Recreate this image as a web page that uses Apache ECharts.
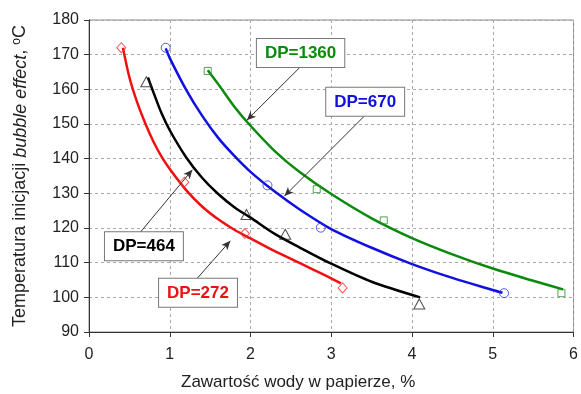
<!DOCTYPE html>
<html>
<head>
<meta charset="utf-8">
<script src="https://cdn.jsdelivr.net/npm/echarts@6/dist/echarts.min.js"></script>
<style>
  html, body { margin: 0; padding: 0; background: #fff; }
  #chart { width: 581px; height: 394px; }
</style>
</head>
<body>
<div id="chart"></div>
<script>
// Trend curves: water content in paper (%) -> bubble effect inception temperature (°C)
const curveDP272 = [[0.42,172],[0.5,163.5],[0.6,156],[0.7,150],[0.8,144.8],[0.9,140.5],[1.0,137],[1.2,131],[1.4,126.2],[1.6,122.5],[1.8,119.5],[2.0,117],[2.3,113.3],[2.6,110],[2.9,106.6],[3.12,104]];
const curveDP464 = [[0.73,163.4],[0.8,159],[0.9,153],[1.0,148.2],[1.2,140.5],[1.4,134.5],[1.6,129.8],[1.8,126],[2.0,123],[2.3,118.3],[2.6,114.5],[3.0,109.7],[3.5,104.5],[4.1,100]];
const curveDP670 = [[0.95,171.8],[1.0,169],[1.2,160],[1.4,152.4],[1.6,146],[1.8,140.8],[2.0,136.2],[2.3,130.5],[2.6,125.5],[3.0,119.7],[3.5,114.3],[4.0,109.6],[4.5,105.6],[5.0,102.1],[5.12,101.3]];
const curveDP1360 = [[1.47,165.5],[1.6,161.5],[1.8,155],[2.0,149.5],[2.3,142.2],[2.6,136.3],[3.0,129.8],[3.5,122.8],[4.0,117.1],[4.5,112.4],[5.0,108.3],[5.5,104.8],[5.87,102.3]];

// Measured points
const pointsDP272 = [[0.4,172],[1.18,133.2],[1.93,118.4],[3.14,102.7]];
const pointsDP464 = [[0.71,162.2],[1.95,123.9],[2.43,118.2],[4.09,98.1]];
const pointsDP670 = [[0.95,172],[2.21,132.3],[2.87,120.1],[5.14,101.2]];
const pointsDP1360 = [[1.47,165.3],[2.82,131.2],[3.65,122.2],[5.85,101.2]];

// Callout labels: text, label anchor [x, y], arrow start [x, y], arrow tip [x, y]
const calloutText = ['DP=1360', 'DP=670', 'DP=464', 'DP=272'];
const calloutAnchor = [[2.62,170.5],[3.42,156.4],[0.68,114.7],[1.35,101.3]];
const calloutFrom = [[2.61,166.3],[3.41,152.3],[0.615,118.2],[1.337,105.4]];
const calloutTo = [[1.955,151.1],[2.42,129.2],[1.28,136.8],[1.75,116.3]];

const colors = ['#0a8a0a', '#1010e0', '#000000', '#f01010'];
const markerColors = ['#2e8b2e', '#3030e0', '#222222', '#f03030'];

const chart = echarts.init(document.getElementById('chart'));
const font = '"Liberation Sans", Arial, sans-serif';

function curve(data, color) {
  return {
    type: 'line', data: data, smooth: 0.3, showSymbol: false, symbol: 'none',
    lineStyle: { color: color, width: 2.5 }, silent: true, z: 3
  };
}
function markers(data, color, symbol, size) {
  return {
    type: 'scatter', data: data, symbol: symbol, symbolSize: size,
    itemStyle: { color: 'rgba(255,255,255,0)', borderColor: color, borderWidth: 1 },
    silent: true, z: 4
  };
}

const series = [
  curve(curveDP1360, colors[0]),
  curve(curveDP670, colors[1]),
  curve(curveDP464, colors[2]),
  curve(curveDP272, colors[3]),
  markers(pointsDP1360, markerColors[0], 'rect', 7),
  markers(pointsDP670, markerColors[1], 'circle', 9),
  markers(pointsDP464, markerColors[2], 'triangle', [11, 10]),
  markers(pointsDP272, markerColors[3], 'diamond', [9, 10]),
  {
    type: 'line', data: [], silent: true, z: 5,
    markLine: {
      silent: true, symbol: ['none', 'arrow'], symbolSize: [6, 9],
      label: { show: false },
      lineStyle: { color: '#333', width: 1, type: 'solid' },
      data: calloutFrom.map((p, i) => [{ coord: p }, { coord: calloutTo[i] }])
    },
    markPoint: {
      silent: true,
      data: calloutText.map((t, i) => ({
        coord: calloutAnchor[i], symbol: 'rect', symbolSize: 1,
        itemStyle: { color: 'rgba(0,0,0,0)' },
        label: {
          show: true, position: 'inside', formatter: t,
          color: colors[i], fontFamily: font, fontWeight: 'bold', fontSize: 17,
          lineHeight: 18, backgroundColor: '#fff', borderColor: '#777', borderWidth: 1,
          padding: [5, 8, 5, 8]
        }
      }))
    }
  }
];

chart.setOption({
  animation: false,
  backgroundColor: '#fff',
  grid: { left: 89, top: 20, right: 7, bottom: 62, show: true, borderColor: '#888', borderWidth: 1, backgroundColor: 'transparent' },
  xAxis: {
    type: 'value', min: 0, max: 6, interval: 1,
    axisLine: { show: true, lineStyle: { color: '#333', width: 1 } },
    axisTick: { show: true, length: 5, lineStyle: { color: '#333' } },
    axisLabel: { color: '#222', fontFamily: font, fontSize: 16, margin: 15 },
    splitLine: { show: true, lineStyle: { color: '#aaa', type: [3, 3], width: 1 } }
  },
  yAxis: {
    type: 'value', min: 90, max: 180, interval: 10,
    axisLine: { show: true, lineStyle: { color: '#333', width: 1 } },
    axisTick: { show: true, length: 5, lineStyle: { color: '#333' } },
    axisLabel: { color: '#222', fontFamily: font, fontSize: 16, margin: 10 },
    splitLine: { show: true, lineStyle: { color: '#aaa', type: [3, 3], width: 1 } },
    name: 'Temperatura inicjacji {i|bubble effect}, {s|o}C',
    nameLocation: 'middle', nameGap: 59, nameRotate: 90,
    nameTextStyle: {
      color: '#222', fontFamily: font, fontSize: 18,
      rich: {
        i: { fontStyle: 'italic', fontFamily: font, fontSize: 18, color: '#222' },
        s: { fontSize: 12, fontFamily: font, verticalAlign: 'top', color: '#222', padding: [0, 0, 7, 0] }
      }
    }
  },
  graphic: [{
    type: 'text', left: 181, top: 374, silent: true,
    style: { text: 'Zawartość wody w papierze, %', fill: '#222', font: '17px ' + font }
  }],
  series: series
});
</script>
</body>
</html>
